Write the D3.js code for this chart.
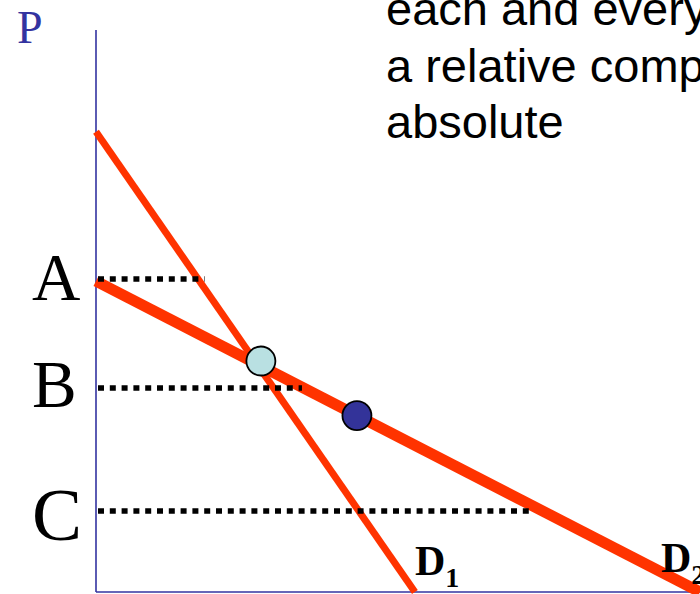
<!DOCTYPE html>
<html>
<head>
<meta charset="utf-8">
<script src="https://cdn.jsdelivr.net/npm/d3@7"></script>
<style>
  html, body { margin: 0; padding: 0; background: #fff; overflow: hidden; }
  svg { display: block; }
</style>
</head>
<body>
<svg id="chart" width="700" height="594"></svg>
<script>
// Price levels marked on the P axis
const priceLabels = ['A', 'B', 'C'];
const priceLevels = [5.57, 3.63, 1.44];
const dottedEnds = [1.80, 3.41, 7.23];   // quantity where each dotted guide stops

// Demand curves as [q, p] end points
const curveNames = ['D1', 'D2'];
const curvePoints = [
    [[0, 8.19], [5.28, 0]],
    [[0, 5.53], [10, 0]]
];

// Marked points on the curves
const pointQ = [2.73, 4.32];
const pointP = [4.11, 3.14];

const noteLines = ['each and every', 'a relative comp', 'absolute'];

const svg = d3.select('#chart');

const x = d3.scaleLinear().domain([0, 10]).range([96, 700]);
const y = d3.scaleLinear().domain([0, 10]).range([592, 30]);

const blue = '#3333a0';
const red = '#ff3300';

// Axes (plain lines, no ticks)
svg.append('line')
    .attr('x1', x(0)).attr('x2', x(0))
    .attr('y1', y(10)).attr('y2', y(0))
    .style('stroke', blue).style('stroke-width', 1.6);
svg.append('line')
    .attr('x1', x(0)).attr('x2', x(10))
    .attr('y1', y(0)).attr('y2', y(0))
    .style('stroke', blue).style('stroke-width', 1.6);

svg.append('text')
    .attr('x', 17).attr('y', 43)
    .style('font-family', '"Liberation Serif", "Times New Roman", serif')
    .style('font-size', '46px')
    .style('fill', blue)
    .text('P');

// Demand curves
const line = d3.line().x(d => x(d[0])).y(d => y(d[1]));
const widths = [7, 11];
curvePoints.forEach((pts, i) => {
    svg.append('path')
        .attr('d', line(pts))
        .style('fill', 'none')
        .style('stroke', red)
        .style('stroke-width', widths[i]);
});

// Dotted guides at each price
svg.selectAll('.guide')
    .data(priceLevels)
    .enter()
    .append('line')
    .attr('class', 'guide')
    .attr('x1', x(0) + 2)
    .attr('x2', (d, i) => x(dottedEnds[i]))
    .attr('y1', d => y(d))
    .attr('y2', d => y(d))
    .style('stroke', '#000')
    .style('stroke-width', 5.5)
    .style('stroke-dasharray', '6,5.8');

// Price letters
const letterSizes = [67, 67, 75];
const letterBase = [300, 407, 540];
priceLabels.forEach((lab, i) => {
    svg.append('text')
        .attr('x', 32).attr('y', letterBase[i])
        .style('font-family', '"Liberation Serif", "Times New Roman", serif')
        .style('font-size', letterSizes[i] + 'px')
        .style('fill', '#000')
        .text(lab);
});

// Points
const fills = ['#b9e0e2', '#333399'];
svg.selectAll('.pt')
    .data(pointQ)
    .enter()
    .append('circle')
    .attr('class', 'pt')
    .attr('cx', d => x(d))
    .attr('cy', (d, i) => y(pointP[i]))
    .attr('r', 14.5)
    .style('fill', (d, i) => fills[i])
    .style('stroke', '#000')
    .style('stroke-width', 1.8);

// Curve labels with subscripts
const curveLabelPos = [[415, 575], [661, 572]];
curveNames.forEach((name, i) => {
    const t = svg.append('text')
        .attr('x', curveLabelPos[i][0]).attr('y', curveLabelPos[i][1])
        .style('font-family', '"Liberation Serif", "Times New Roman", serif')
        .style('font-weight', 'bold')
        .style('fill', '#000');
    t.append('tspan').style('font-size', '42px').text(name[0]);
    t.append('tspan').attr('dy', 12).style('font-size', '28px').text(name.slice(1));
});

// Cut-off note text at top right
svg.selectAll('.note')
    .data(noteLines)
    .enter()
    .append('text')
    .attr('class', 'note')
    .attr('x', 386)
    .attr('y', (d, i) => 25 + i * 56.7)
    .style('font-family', '"Liberation Sans", Arial, sans-serif')
    .style('font-size', '47px')
    .style('fill', '#000')
    .text(d => d);
</script>
</body>
</html>
